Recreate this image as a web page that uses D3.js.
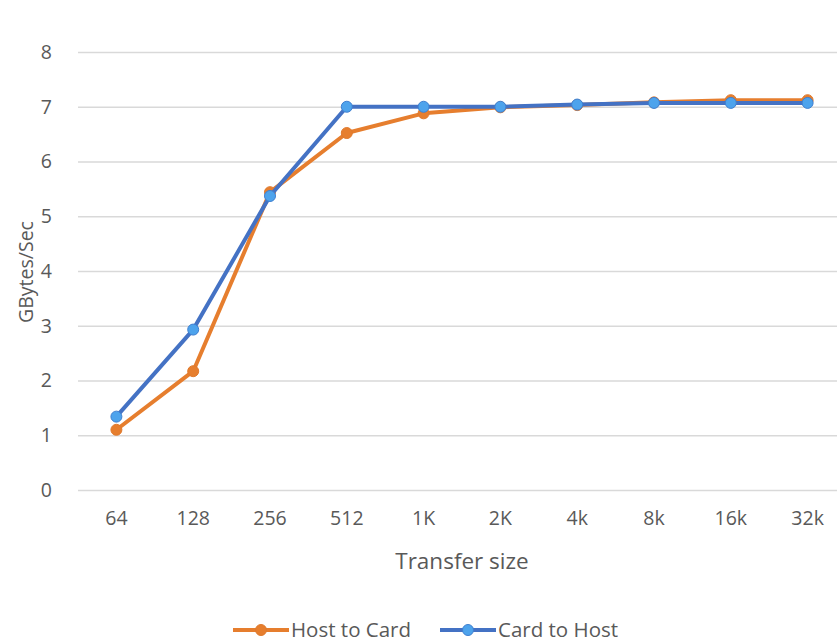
<!DOCTYPE html>
<html>
<head>
<meta charset="utf-8">
<script src="https://cdn.jsdelivr.net/npm/d3@7"></script>
<style>
  body { margin: 0; background: #fff; overflow: hidden; }
  svg text { font-family: "Open Sans", sans-serif; fill: #595959; }
</style>
</head>
<body>
<div id="chart"></div>
<script>
// chart data
var sizes = ["64", "128", "256", "512", "1K", "2K", "4k", "8k", "16k", "32k"];
var hostToCard = [1.10, 2.17, 5.44, 6.52, 6.88, 6.99, 7.03, 7.08, 7.12, 7.12];
var cardToHost = [1.34, 2.93, 5.37, 7.00, 7.00, 7.00, 7.04, 7.07, 7.07, 7.07];
var yTicks = [0, 1, 2, 3, 4, 5, 6, 7, 8];
var seriesNames = ["Host to Card", "Card to Host"];

var W = 837, H = 643;
var margin = { top: 52, right: -9, bottom: 153, left: 78 },
  width = W - margin.left - margin.right,
  height = H - margin.top - margin.bottom;

var svg = d3.select("#chart").append("svg")
  .attr("width", W)
  .attr("height", H);

var g = svg.append("g")
  .attr("transform", "translate(" + margin.left + "," + margin.top + ")");

// scales
var x = d3.scaleBand().domain(sizes).range([0, width]);
var y = d3.scaleLinear().domain([0, 8]).range([height, 0]);

// gridlines
g.append("g")
  .call(d3.axisLeft(y).tickValues(yTicks).tickSize(-width).tickFormat(""))
  .call(function (a) { a.select(".domain").remove(); })
  .selectAll(".tick line")
  .attr("stroke", "#d9d9d9")
  .attr("stroke-width", 1.3);

// y axis labels
g.append("g")
  .call(d3.axisLeft(y).tickValues(yTicks).tickSize(0).tickPadding(26))
  .call(function (a) { a.select(".domain").remove(); })
  .selectAll("text")
  .attr("font-size", 19.5);

// x axis labels
g.append("g")
  .attr("transform", "translate(0," + height + ")")
  .call(d3.axisBottom(x).tickSize(0).tickPadding(21))
  .call(function (a) { a.select(".domain").remove(); })
  .selectAll("text")
  .attr("font-size", 19.5);

// axis titles
svg.append("text")
  .attr("x", 462).attr("y", 569)
  .attr("text-anchor", "middle")
  .attr("font-size", 22.5)
  .text("Transfer size");

svg.append("text")
  .attr("transform", "translate(33,272) rotate(-90)")
  .attr("text-anchor", "middle")
  .attr("font-size", 19.5)
  .text("GBytes/Sec");

var series = [
  { name: seriesNames[0], values: hostToCard, line: "#e67e2e", dot: "#e67e2e", dotStroke: "#e07a2d" },
  { name: seriesNames[1], values: cardToHost, line: "#4472c4", dot: "#4da3ec", dotStroke: "#3f7fd0" }
];

var line = d3.line()
  .x(function (d, i) { return x(sizes[i]) + x.bandwidth() / 2; })
  .y(function (d) { return y(d); });

series.forEach(function (s) {
  g.append("path")
    .datum(s.values)
    .attr("fill", "none")
    .attr("stroke", s.line)
    .attr("stroke-width", 4)
    .attr("stroke-linejoin", "round")
    .attr("d", line);
  g.selectAll(null)
    .data(s.values)
    .enter().append("circle")
    .attr("cx", function (d, i) { return x(sizes[i]) + x.bandwidth() / 2; })
    .attr("cy", function (d) { return y(d); })
    .attr("r", 5.5)
    .attr("fill", s.dot)
    .attr("stroke", s.dotStroke)
    .attr("stroke-width", 1);
});

// legend
var legendX = [233, 440];
series.forEach(function (s, i) {
  var lg = svg.append("g").attr("transform", "translate(" + legendX[i] + ",630)");
  lg.append("line")
    .attr("x1", 0).attr("x2", 56)
    .attr("stroke", s.line).attr("stroke-width", 4);
  lg.append("circle")
    .attr("cx", 28).attr("r", 5.5)
    .attr("fill", s.dot).attr("stroke", s.dotStroke);
  lg.append("text")
    .attr("x", 58).attr("y", 7)
    .attr("font-size", 20.5)
    .text(s.name);
});
</script>
</body>
</html>
